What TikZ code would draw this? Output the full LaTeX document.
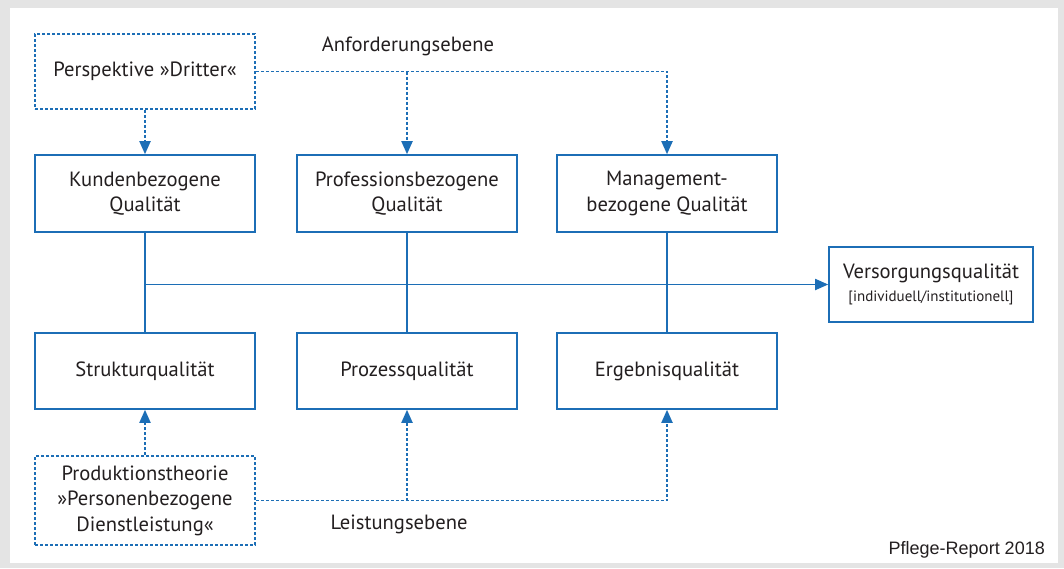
\documentclass[tikz,border=0pt]{standalone}
\usepackage{fontspec}
\setmainfont{PT Sans}
\newfontfamily\helv{Liberation Sans}
\usetikzlibrary{arrows.meta}
\definecolor{lblue}{RGB}{28,110,182}
\definecolor{txt}{RGB}{35,31,32}
\definecolor{frame}{RGB}{228,228,228}
\tikzset{
  solidbox/.style={draw=lblue, line width=1.6pt, fill=white, minimum width=220pt, minimum height=77pt, align=center, text=txt, font=\fontsize{20.6}{25.5}\selectfont, inner sep=0pt},
  dotbox/.style={solidbox, dash pattern=on 3pt off 2pt, line width=1.8pt},
  link/.style={draw=lblue, line width=1.8pt},
  dotlink/.style={draw=lblue, line width=1.9pt, dash pattern=on 3pt off 2pt},
  tip/.style={-{Triangle[length=13pt,width=11pt]}},
  lbl/.style={text=txt, font=\fontsize{20.6}{25.5}\selectfont, inner sep=0pt},
}
\begin{document}
\begin{tikzpicture}[x=1pt,y=-1pt]
\useasboundingbox (0,0) rectangle (1064,568);
\fill[frame] (0,0) rectangle (1064,568);
\fill[white] (10,8) rectangle (1058,563);

\node[dotbox, minimum height=75pt] (persp) at (145,71.5) {Perspektive »Dritter«};
\node[solidbox] (kunden) at (145,193.5) {Kundenbezogene\\Qualität};
\node[solidbox] (prof) at (407,193.5) {Professionsbezogene\\Qualität};
\node[solidbox] (mgmt) at (667,193.5) {Management-\\bezogene Qualität};
\node[solidbox, minimum height=76pt] (struk) at (145,371) {Strukturqualität};
\node[solidbox, minimum height=76pt] (proz) at (407,371) {Prozessqualität};
\node[solidbox, minimum height=76pt] (ergeb) at (667,371) {Ergebnisqualität};
\node[dotbox, minimum height=89pt] (produk) at (145,500.5) {Produktionstheorie\\»Personenbezogene\\Dienstleistung«};
\node[solidbox, minimum width=204pt, minimum height=75pt] (vers) at (931,284.5) {Versorgungsqualität\\[-3pt]{\fontsize{15}{17}\selectfont [individuell/institutionell]}};

\node[lbl] (anf) at (408,46) {Anforderungsebene};
\node[lbl] (leist) at (399,524) {Leistungsebene};
\node[text=txt, font=\helv\fontsize{18}{20}\selectfont, inner sep=0pt, anchor=east] (pr) at (1045,550) {Pflege-Report 2018};

% upper dotted connectors
\draw[dotlink, tip] (persp.south) -- (kunden.north);
\draw[dotlink, tip] (persp.east) -| (mgmt.north);
\draw[dotlink, tip] (persp.east -| prof.north) -- (prof.north);

% vertical links
\draw[link] (kunden.south) -- (struk.north);
\draw[link] (prof.south) -- (proz.north);
\draw[link] (mgmt.south) -- (ergeb.north);
\draw[link, tip] (kunden.south |- vers.west) -- (vers.west);

% lower dotted connectors
\draw[dotlink, tip] (produk.north) -- (struk.south);
\draw[dotlink, tip] (produk.east) -| (ergeb.south);
\draw[dotlink, tip] (produk.east -| proz.south) -- (proz.south);
\end{tikzpicture}
\end{document}
